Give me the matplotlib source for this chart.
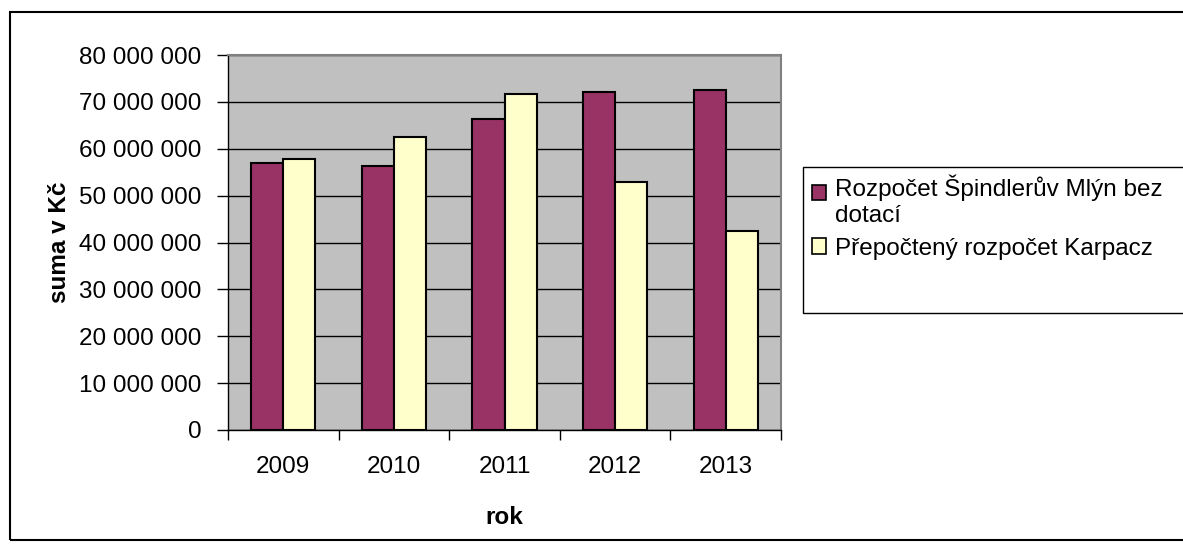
import matplotlib
matplotlib.use("Agg")
import matplotlib.pyplot as plt
from matplotlib.patches import Rectangle, Patch
from matplotlib.legend_handler import HandlerPatch
from matplotlib.ticker import FuncFormatter, MultipleLocator
import numpy as np

plt.rcParams['font.family'] = ['Liberation Sans', 'DejaVu Sans']

years = ['2009', '2010', '2011', '2012', '2013']
spindleruv = [57.0e6, 56.3e6, 66.4e6, 72.1e6, 72.5e6]
karpacz = [57.9e6, 62.5e6, 71.7e6, 52.9e6, 42.4e6]
series_labels = ['Rozpočet Špindlerův Mlýn bez\ndotací', 'Přepočtený rozpočet Karpacz']
colors = ['#993366', '#FFFFCC']

W, H = 1183, 552
fig = plt.figure(figsize=(W / 100, H / 100), dpi=100)
fig.patch.set_facecolor('white')

def fx(px):
    return px / W

def fy(py):
    return 1 - py / H

# outer chart border
fig.add_artist(Rectangle((fx(10), fy(540)), fx(1200) - fx(10), fy(12) - fy(540),
                         transform=fig.transFigure, fill=False, edgecolor='black', linewidth=1.5))

ax = fig.add_axes([fx(228), fy(430), fx(781) - fx(228), fy(55) - fy(430)])
ax.set_facecolor('#C0C0C0')

x = np.arange(len(years))
bw = 0.29
ax.bar(x - bw / 2, spindleruv, width=bw, color=colors[0], edgecolor='black', linewidth=1.5, zorder=3)
ax.bar(x + bw / 2, karpacz, width=bw, color=colors[1], edgecolor='black', linewidth=1.5, zorder=3)

ax.set_xlim(-0.5, len(years) - 0.5)
ax.set_ylim(0, 80e6)
ax.yaxis.set_major_locator(MultipleLocator(10e6))
ax.yaxis.set_major_formatter(FuncFormatter(lambda v, p: f"{int(round(v)):,}".replace(',', ' ')))
ax.grid(axis='y', color='black', linewidth=1.0, zorder=1)
ax.set_axisbelow(True)

ax.set_xticks(x)
ax.set_xticklabels(years)
ax.set_xticks(np.arange(len(years) + 1) - 0.5, minor=True)
ax.tick_params(axis='x', which='major', length=0, pad=19, labelsize=17.5)
ax.tick_params(axis='x', which='minor', length=7, width=1, direction='out')
ax.tick_params(axis='y', length=8, width=1, direction='out', pad=11, labelsize=17.5)

for s in ['top', 'right']:
    ax.spines[s].set_color('#808080')
    ax.spines[s].set_linewidth(1.5)
for s in ['left', 'bottom']:
    ax.spines[s].set_color('black')
    ax.spines[s].set_linewidth(1.0)

ax.set_xlabel('rok', fontsize=17.5, fontweight='bold', labelpad=20)
ax.set_ylabel('suma v Kč', fontsize=17.5, fontweight='bold', labelpad=6)

# legend frame
fig.add_artist(Rectangle((fx(803), fy(313)), fx(1200) - fx(803), fy(167) - fy(313),
                         transform=fig.transFigure, fill=True, facecolor='white',
                         edgecolor='black', linewidth=1.0))


def top_aligned(legend, orig_handle, xdescent, ydescent, width, height, fontsize):
    return Rectangle((-xdescent, -ydescent + 6), width, height)


def plain(legend, orig_handle, xdescent, ydescent, width, height, fontsize):
    return Rectangle((-xdescent, -ydescent), width, height)


handles = [Patch(facecolor=c, edgecolor='black', linewidth=1.2) for c in colors]
leg = fig.legend(handles, series_labels, loc='upper left',
                 bbox_to_anchor=(fx(807), fy(170)), frameon=False,
                 fontsize=17.5, handlelength=0.6, handleheight=0.6,
                 handletextpad=0.35, labelspacing=0.45, borderpad=0.2,
                 borderaxespad=0,
                 handler_map={handles[0]: HandlerPatch(patch_func=top_aligned),
                              handles[1]: HandlerPatch(patch_func=plain)})

fig.savefig('out.png', dpi=100)
